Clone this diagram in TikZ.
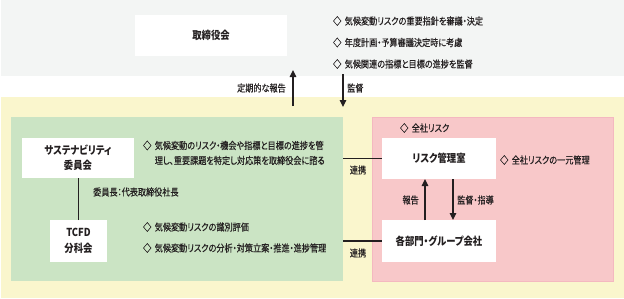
\documentclass[tikz,border=0pt]{standalone}
\usepackage{fontspec}
\setmainfont[FakeStretch=0.85,RawFeature=+palt]{Noto Sans CJK JP}
\newfontfamily\bodyfont[FakeStretch=0.83,FakeBold=0.35,RawFeature=+palt]{Noto Sans CJK JP}
\usetikzlibrary{arrows.meta}
\definecolor{bggray}{HTML}{F3F5F4}
\definecolor{bgyellow}{HTML}{FAF6CD}
\definecolor{bggreen}{HTML}{CBE4C4}
\definecolor{bgpink}{HTML}{F8C8C9}
\definecolor{pinkedge}{HTML}{F4B8C0}
\definecolor{ink}{HTML}{231F20}
\begin{document}
\begin{tikzpicture}[x=1pt,y=-1pt,
  region/.style={inner sep=0pt, outer sep=0pt},
  box/.style={fill=white, inner sep=0pt, outer sep=0pt, align=center, text=ink,
    font=\fontsize{11}{15}\selectfont\bfseries},
  bul/.style={inner sep=0pt, align=left, text=ink, font=\bodyfont\fontsize{9.8}{15}\selectfont},
  lbl/.style={inner sep=0pt, text=ink, font=\bodyfont\fontsize{9.8}{12}\selectfont},
  ln/.style={draw=ink, line width=1.1pt},
  arr/.style={draw=ink, line width=1.1pt, -{Triangle[length=7pt,width=6.5pt]}}
]
\useasboundingbox (0,0) rectangle (624,298);
\fill[white] (0,0) rectangle (624,298);
% backgrounds
\fill[bggray] (1,0) rectangle (624,76);
\fill[bgyellow] (1,97) rectangle (624,298);
\node[region, fill=bggreen, minimum width=332, minimum height=164] (green) at (177,199) {};
\node[region, fill=bgpink, draw=pinkedge, line width=0.6pt, minimum width=241, minimum height=164] (pink) at (492.5,199) {};

% board
\node[box, minimum width=152, minimum height=41] (board) at (211,35.5) {取締役会};
\node[bul, anchor=west] (tb1) at (333,21) {◇\hspace{0.35em}気候変動リスクの重要指針を審議・決定};
\node[bul, anchor=west] (tb2) at (333,42.5) {◇\hspace{0.35em}年度計画・予算審議決定時に考慮};
\node[bul, anchor=west] (tb3) at (333,64) {◇\hspace{0.35em}気候関連の指標と目標の進捗を監督};

% report / supervise between levels
\coordinate (upS) at (293,106);
\coordinate (upE) at (293,70);
\draw[arr] (upS) -- (upE);
\node[lbl, anchor=east] (lreport) at (286,88) {定期的な報告};
\coordinate (dnS) at (343,74);
\coordinate (dnE) at (343,107);
\draw[arr] (dnS) -- (dnE);
\node[lbl, anchor=west] (lsup) at (347,88) {監督};

% sustainability committee
\node[box, minimum width=112, minimum height=40] (sust) at (78,158) {サステナビリティ\\委員会};
\node[bul, anchor=north west] (sb) at (143,138.5) {\begin{tabular}{@{}l@{\hspace{0.35em}}l@{}}◇&気候変動のリスク・機会や指標と目標の進捗を管\\&理し、重要課題を特定し対応策を取締役会に諮る\end{tabular}};
\node[lbl, anchor=west] (chair) at (93,192) {委員長：代表取締役社長};

% TCFD
\node[box, minimum width=57, minimum height=42, font=\fontsize{11}{16}\selectfont\bfseries] (tcfd) at (78.5,241) {TCFD\\分科会};
\draw[ln] (tcfd.north) -- (tcfd.north |- sust.south);
\node[bul, anchor=west] (tc1) at (143,227) {◇\hspace{0.35em}気候変動リスクの識別評価};
\node[bul, anchor=west] (tc2) at (143,248) {◇\hspace{0.35em}気候変動リスクの分析・対策立案・推進・進捗管理};

% risk management
\node[box, minimum width=114, minimum height=41] (rm) at (439,158.5) {リスク管理室};
\node[box, minimum width=114, minimum height=42] (dept) at (439,241) {各部門・グループ会社};
\node[bul, anchor=west] (rmall) at (400,128) {◇\hspace{0.35em}全社リスク};
\node[bul, anchor=west] (rmone) at (500,160) {◇\hspace{0.35em}全社リスクの一元管理};
\draw[arr] ([xshift=-14pt]dept.north) -- ([xshift=-14pt]rm.south);
\draw[arr] ([xshift=14pt]rm.south) -- ([xshift=14pt]dept.north);
\node[lbl, anchor=east] (lrep2) at (419,200) {報告};
\node[lbl, anchor=west] (lsup2) at (457,200) {監督・指導};

% cooperation
\draw[ln] (green.east |- rm.west) -- (rm.west);
\draw[ln] (green.east |- dept.west) -- (dept.west);
\node[lbl] (co1) at (358,170) {連携};
\node[lbl] (co2) at (358,253) {連携};
\end{tikzpicture}
\end{document}
